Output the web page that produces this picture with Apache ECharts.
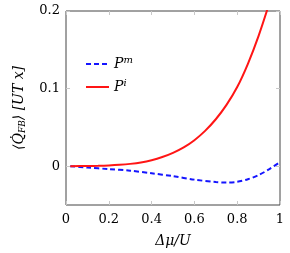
<!DOCTYPE html>
<html><head><meta charset="utf-8">
<script src="https://cdn.jsdelivr.net/npm/echarts@6/dist/echarts.min.js"></script>
<style>html,body{margin:0;padding:0;background:#fff}#c{width:290px;height:253px}</style>
</head><body><div id="c"></div>
<script>
const xTicks = [0, 0.2, 0.4, 0.6, 0.8, 1];
const yTicks = [0, 0.1, 0.2];
const xPm = [0.02, 0.1, 0.2, 0.3, 0.4, 0.5, 0.6, 0.7, 0.75, 0.8, 0.85, 0.9, 0.95, 1.0];
const yPm = [0, -0.0018, -0.0037, -0.0058, -0.0091, -0.0128, -0.0173, -0.0204, -0.021, -0.0202, -0.0168, -0.0115, -0.0038, 0.0052];
const xPi = [0.02, 0.1, 0.15, 0.2, 0.25, 0.3, 0.35, 0.4, 0.45, 0.5, 0.55, 0.6, 0.65, 0.7, 0.75, 0.8, 0.85, 0.9, 0.95];
const yPi = [0, 0.0002, 0.0005, 0.001, 0.0018, 0.003, 0.0048, 0.0077, 0.0118, 0.0172, 0.0242, 0.0335, 0.0455, 0.0605, 0.079, 0.102, 0.132, 0.168, 0.21];
const serif = "DejaVu Serif";
const chart = echarts.init(document.getElementById('c'), null, {renderer:'canvas'});
const tickStyle = {show:true, inside:true, length:4, lineStyle:{color:'#c8c8c8', width:1}};
chart.setOption({
  animation:false,
  grid:{left:66, right:10, top:11, bottom:48, show:true, borderColor:'#444', borderWidth:1, backgroundColor:'transparent'},
  legend:{
    orient:'vertical', left:80, top:50, itemGap:7, itemWidth:23, itemHeight:14,
    itemStyle:{opacity:0},
    data:['Pm','Pi'],
    formatter: n => n === 'Pm' ? '{b|P}{s|m}' : '{b|P}{s|i}',
    textStyle:{rich:{b:{fontFamily:serif, fontStyle:'italic', fontSize:14, color:'#000'}, s:{fontFamily:serif, fontStyle:'italic', fontSize:10, color:'#000', verticalAlign:'top', padding:[0,0,8,0]}}}
  },
  xAxis:[{
    type:'value', min:0, max:1, interval:0.2,
    axisLine:{show:false, onZero:false}, axisTick:tickStyle, splitLine:{show:false},
    axisLabel:{fontFamily:serif, fontSize:13, color:'#000', margin:8, formatter: v => String(Math.round(v*10)/10)},
    name:'Δμ/U', nameLocation:'middle', nameGap:29,
    nameTextStyle:{fontFamily:serif, fontSize:14, fontStyle:'italic', color:'#000'}
  },{
    type:'value', min:0, max:1, interval:0.2, position:'top',
    axisLine:{show:false, onZero:false}, axisTick:tickStyle, splitLine:{show:false}, axisLabel:{show:false}
  }],
  yAxis:[{
    type:'value', min:-0.05, max:0.2, interval:0.05,
    axisLine:{show:false, onZero:false}, splitLine:{show:false},
    axisTick:{show:true, inside:true, length:4, lineStyle:{color:'#c8c8c8'}, customValues:yTicks},
    axisLabel:{fontFamily:serif, fontSize:13, color:'#000', margin:6, customValues:yTicks, formatter: v => String(Math.round(v*10)/10)},
    name:'{a|⟨Q̇}{sub|FB}{a|⟩ [UT x]}', nameLocation:'middle', nameGap:39, nameRotate:90,
    nameTextStyle:{rich:{a:{fontFamily:serif, fontSize:14, fontStyle:'italic', color:'#000'}, sub:{fontFamily:serif, fontSize:9, fontStyle:'italic', color:'#000', verticalAlign:'bottom', padding:[6,0,0,0]}}}
  },{
    type:'value', min:-0.05, max:0.2, interval:0.05, position:'right',
    axisLine:{show:false, onZero:false}, splitLine:{show:false}, axisLabel:{show:false},
    axisTick:{show:true, inside:true, length:4, lineStyle:{color:'#c8c8c8'}, customValues:yTicks}
  }],
  series:[
    {name:'Pm', type:'line', smooth:0.3, symbol:'none', clip:true,
     data:xPm.map((x,i)=>[x,yPm[i]]),
     lineStyle:{color:'#1515ff', width:2, type:[5,3]}, itemStyle:{color:'#1515ff'}},
    {name:'Pi', type:'line', smooth:0.3, symbol:'none', clip:true,
     data:xPi.map((x,i)=>[x,yPi[i]]),
     lineStyle:{color:'#ff1515', width:2}, itemStyle:{color:'#ff1515'}}
  ]
});
</script></body></html>
